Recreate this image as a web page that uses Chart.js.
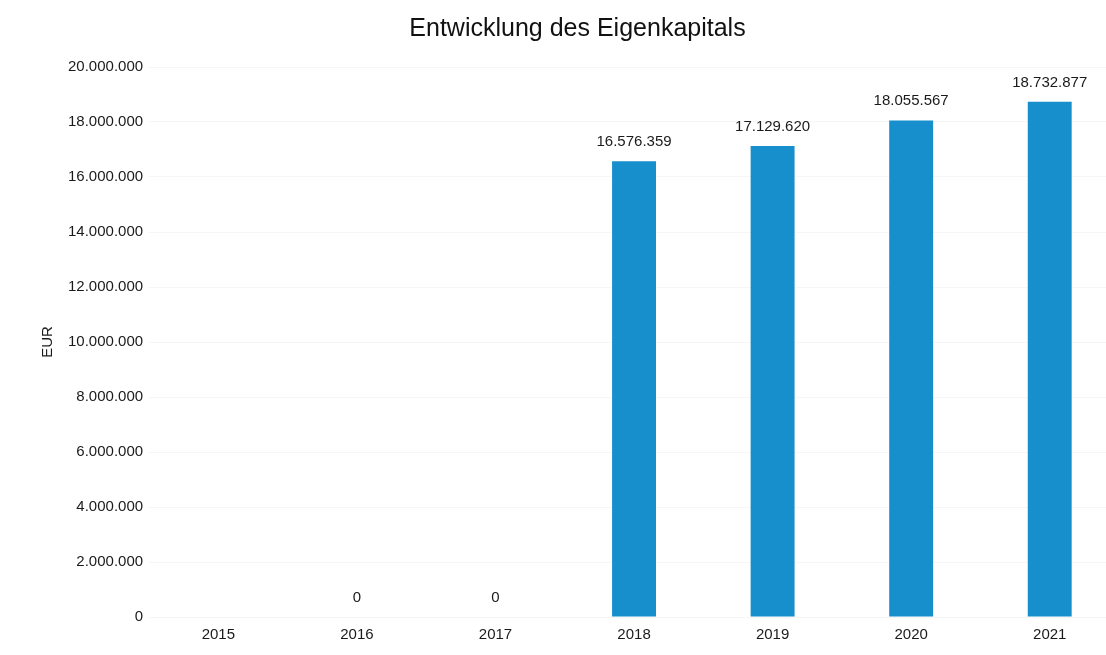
<!DOCTYPE html>
<html><head><meta charset="utf-8">
<script src="https://cdn.jsdelivr.net/npm/chart.js@4"></script>
<style>html,body{margin:0;padding:0;background:#fff;overflow:hidden}#wrap{width:1106px;height:655px;overflow:hidden}</style>
</head><body><div id="wrap"><canvas id="c" width="1119" height="655"></canvas></div>
<script>
const categories = ['2015','2016','2017','2018','2019','2020','2021'];
const equityValues = [null, 0, 0, 16576359, 17129620, 18055567, 18732877];
const yTicks = [0, 2000000, 4000000, 6000000, 8000000, 10000000, 12000000, 14000000, 16000000, 18000000, 20000000];
const chartTitle = 'Entwicklung des Eigenkapitals';
const yTitle = 'EUR';

const FONT = '"Liberation Sans", Arial, sans-serif';
function fmt(v){ return String(Math.round(v)).replace(/\B(?=(\d{3})+(?!\d))/g, '.'); }

const labelPlugin = {
  id: 'valueLabels',
  afterDatasetsDraw(chart){
    const ctx = chart.ctx;
    const meta = chart.getDatasetMeta(0);
    ctx.save();
    ctx.font = '15px ' + FONT;
    ctx.fillStyle = '#1a1a1a';
    ctx.textAlign = 'center';
    ctx.textBaseline = 'alphabetic';
    meta.data.forEach((bar, i) => {
      const v = equityValues[i];
      if (v === null || v === undefined) return;
      ctx.fillText(fmt(v), bar.x, bar.y - 15);
    });
    ctx.restore();
  }
};

new Chart(document.getElementById('c'), {
  type: 'bar',
  data: { labels: categories, datasets: [{ data: equityValues, backgroundColor: '#178FCC', borderWidth: 0, categoryPercentage: 1, barPercentage: 0.317 }] },
  options: {
    responsive: false, animation: false,
    layout: { padding: { top: 14, right: 0, left: 36, bottom: 2 } },
    plugins: {
      legend: { display: false }, tooltip: { enabled: false },
      title: { display: true, text: chartTitle, color: '#111', font: { family: FONT, size: 25, weight: 'normal', lineHeight: 1.2 }, padding: { top: 0, bottom: 23 } }
    },
    scales: {
      x: { grid: { display: false, drawTicks: false }, border: { display: false },
           ticks: { color: '#1a1a1a', font: { family: FONT, size: 15 }, padding: 9, maxRotation: 0 } },
      y: { min: 0, max: 20000000,
           afterBuildTicks(axis){ axis.ticks = yTicks.map(v => ({ value: v })); },
           grid: { color: 'rgba(0,0,0,0.035)', drawTicks: false }, border: { display: false },
           ticks: { color: '#1a1a1a', font: { family: FONT, size: 15 }, padding: 6, callback: v => fmt(v) },
           title: { display: true, text: yTitle, color: '#1a1a1a', font: { family: FONT, size: 15, lineHeight: 1.2 }, padding: { top: 3, bottom: 5 } } }
    }
  },
  plugins: [labelPlugin]
});
</script></body></html>
